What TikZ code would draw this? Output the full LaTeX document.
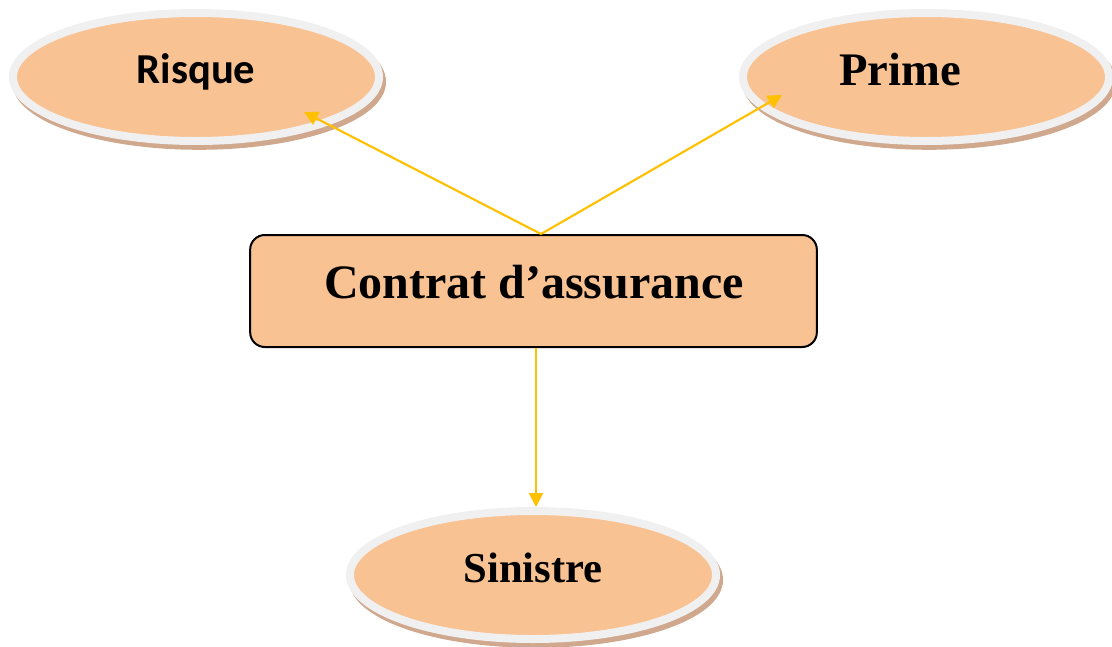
\documentclass[tikz,border=0pt]{standalone}
\usepackage{fontspec}
\setmainfont{Liberation Serif}
\newfontfamily\calibrifont{Carlito}
\usetikzlibrary{shapes.geometric,arrows.meta,calc}
\definecolor{peach}{HTML}{F8C292}
\definecolor{ringgray}{HTML}{F0F0F0}
\definecolor{shadebrown}{HTML}{CFA88E}
\definecolor{amber}{HTML}{FFC000}
\begin{document}
\begin{tikzpicture}[x=0.75pt,y=-0.75pt,
  oval/.style={ellipse, inner sep=0pt, minimum width=274.5pt, minimum height=96pt,
    fill=peach, draw=ringgray, line width=6pt,
    preaction={draw=shadebrown, fill=shadebrown, line width=6pt,
      transform canvas={shift={(2.25pt,-3.6pt)}}}},
  box/.style={rectangle, rounded corners=11pt, minimum width=425pt, minimum height=84pt,
    fill=peach, draw=black, line width=1.5pt},
  lbl/.style={anchor=base, inner sep=0pt},
  link/.style={draw=amber, line width=1.6pt, -{Triangle[length=10.5pt,width=10.5pt]}}
]
\useasboundingbox (0,0) rectangle (1112,646);

% the three outcome ovals
\node[oval] (risque) at (196,77) {};
\node[oval] (prime) at (926,77) {};
\node[oval] (sinistre) at (533,575) {};

% central contract box
\node[box] (contrat) at (533.5,291) {};

% labels
\node[lbl, font=\calibrifont\bfseries\fontsize{32}{36}\selectfont] (risque label) at (196,83) {Risque};
\node[lbl, font=\bfseries\fontsize{35}{40}\selectfont] (prime label) at (900,85) {Prime};
\node[lbl, font=\bfseries\fontsize{32}{36}\selectfont] (sinistre label) at (533,582) {Sinistre};
\node[lbl, font=\bfseries\fontsize{36}{40}\selectfont] (contrat label) at (534,298) {Contrat d’assurance};

% connectors
\coordinate (fork) at ($(contrat.north)+(7.5,0)$);
\coordinate (risque tip) at ($(risque.center)+(108,35)$);
\coordinate (prime tip) at ($(prime.center)+(-144,18)$);
\draw[link] (fork) -- (risque tip);
\draw[link] (fork) -- (prime tip);
\draw[link] ($(contrat.south)+(2.5,0)$) coordinate (drop) -- (drop |- sinistre.north);
\end{tikzpicture}
\end{document}
